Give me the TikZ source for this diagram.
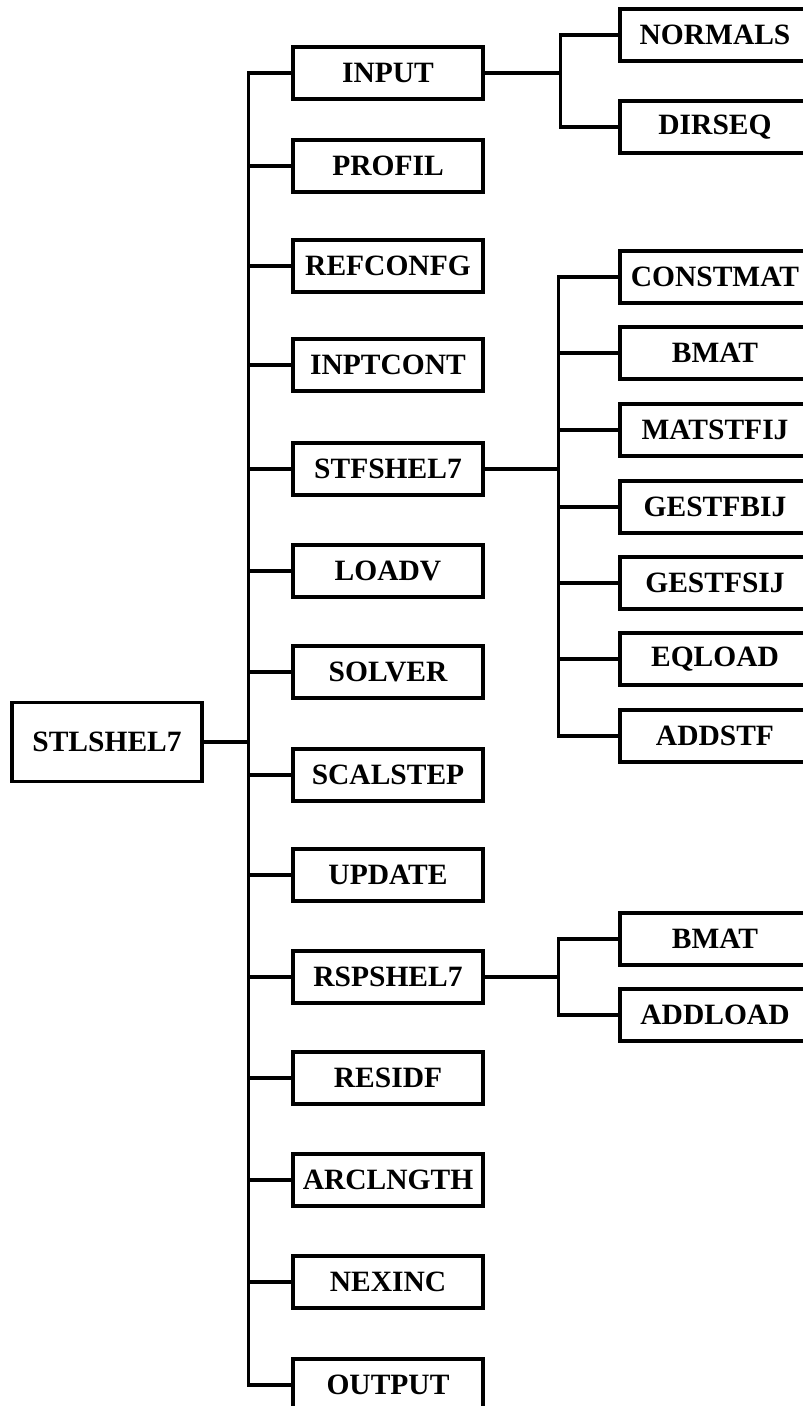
\documentclass[tikz,border=0pt]{standalone}
\usepackage{fontspec}
\setmainfont{Liberation Serif}
\usepackage{tikz}

\begin{document}
\begin{tikzpicture}[
    x=1pt, y=-1pt,
    every node/.style={font=\fontsize{29.5}{32}\selectfont\bfseries, align=center},
    box/.style={draw, line width=3.4pt, minimum width=190pt, minimum height=52pt, inner sep=0pt},
    wire/.style={line width=3.4pt}
]
    \useasboundingbox (0,0) rectangle (803,1406);

    \node[box, minimum height=79pt] (stl) at (107,742) {STLSHEL7};

    \node[box] (inp) at (388,73) {INPUT};
    \node[box] (prof) at (388,166) {PROFIL};
    \node[box] (refc) at (388,266) {REFCONFG};
    \node[box] (inpc) at (388,365) {INPTCONT};
    \node[box] (stf) at (388,469) {STFSHEL7};
    \node[box] (loadv) at (388,571) {LOADV};
    \node[box] (solv) at (388,672) {SOLVER};
    \node[box] (scal) at (388,775) {SCALSTEP};
    \node[box] (upd) at (388,875) {UPDATE};
    \node[box] (rsp) at (388,977) {RSPSHEL7};
    \node[box] (resid) at (388,1078) {RESIDF};
    \node[box] (arcl) at (388,1180) {ARCLNGTH};
    \node[box] (nexinc) at (388,1282) {NEXINC};
    \node[box] (outp) at (388,1385) {OUTPUT};

    \node[box] (norm) at (715,35) {NORMALS};
    \node[box] (dirs) at (715,127) {DIRSEQ};

    \node[box] (cmat) at (715,277) {CONSTMAT};
    \node[box] (bmat) at (715,353) {BMAT};
    \node[box] (mstf) at (715,430) {MATSTFIJ};
    \node[box] (gbij) at (715,507) {GESTFBIJ};
    \node[box] (gsij) at (715,583) {GESTFSIJ};
    \node[box] (eql) at (715,659) {EQLOAD};
    \node[box] (adds) at (715,736) {ADDSTF};

    \node[box] (bmatb) at (715,939) {BMAT};
    \node[box] (addl) at (715,1015) {ADDLOAD};

    \draw[wire] (stl.east) -- ++(45,0) |- (inp.west);
    \draw[wire] (stl.east) -- ++(45,0) |- (prof.west);
    \draw[wire] (stl.east) -- ++(45,0) |- (refc.west);
    \draw[wire] (stl.east) -- ++(45,0) |- (inpc.west);
    \draw[wire] (stl.east) -- ++(45,0) |- (stf.west);
    \draw[wire] (stl.east) -- ++(45,0) |- (loadv.west);
    \draw[wire] (stl.east) -- ++(45,0) |- (solv.west);
    \draw[wire] (stl.east) -- ++(45,0) |- (scal.west);
    \draw[wire] (stl.east) -- ++(45,0) |- (upd.west);
    \draw[wire] (stl.east) -- ++(45,0) |- (rsp.west);
    \draw[wire] (stl.east) -- ++(45,0) |- (resid.west);
    \draw[wire] (stl.east) -- ++(45,0) |- (arcl.west);
    \draw[wire] (stl.east) -- ++(45,0) |- (nexinc.west);
    \draw[wire] (stl.east) -- ++(45,0) |- (outp.west);

    \draw[wire] (inp.east) -- ++(76,0) |- (norm.west);
    \draw[wire] (inp.east) -- ++(76,0) |- (dirs.west);

    \draw[wire] (stf.east) -- ++(74,0) |- (cmat.west);
    \draw[wire] (stf.east) -- ++(74,0) |- (bmat.west);
    \draw[wire] (stf.east) -- ++(74,0) |- (mstf.west);
    \draw[wire] (stf.east) -- ++(74,0) |- (gbij.west);
    \draw[wire] (stf.east) -- ++(74,0) |- (gsij.west);
    \draw[wire] (stf.east) -- ++(74,0) |- (eql.west);
    \draw[wire] (stf.east) -- ++(74,0) |- (adds.west);

    \draw[wire] (rsp.east) -- ++(74,0) |- (bmatb.west);
    \draw[wire] (rsp.east) -- ++(74,0) |- (addl.west);
\end{tikzpicture}
\end{document}
